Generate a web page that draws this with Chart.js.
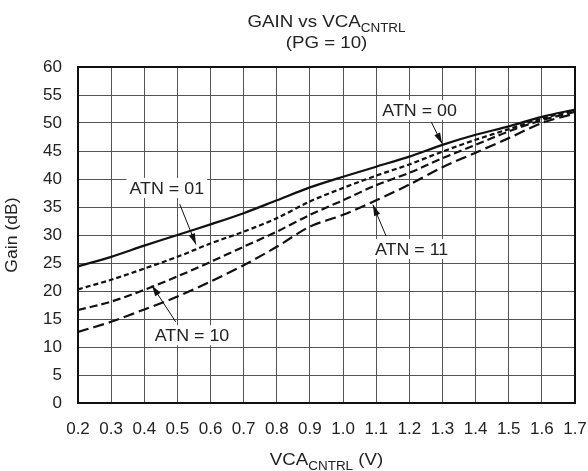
<!DOCTYPE html>
<html>
<head>
<meta charset="utf-8">
<script src="https://cdn.jsdelivr.net/npm/chart.js@4/dist/chart.umd.min.js"></script>
<style>
  html, body { margin: 0; padding: 0; background: #fff; }
  #wrap { width: 588px; height: 471px; position: relative; }
</style>
</head>
<body>
<div id="wrap"><canvas id="gainChart" width="588" height="471"></canvas></div>
<script>
// Data: VCA control voltage vs gain per ATN setting
var vcaVolts = [0.2, 0.3, 0.4, 0.5, 0.6, 0.7, 0.8, 0.9, 1.0, 1.1, 1.2, 1.3, 1.4, 1.5, 1.6, 1.7];
var gainAtn00 = [24.4, 26.1, 28.1, 30.0, 31.9, 33.9, 36.2, 38.5, 40.4, 42.2, 44.0, 46.1, 47.9, 49.4, 51.1, 52.4];
var gainAtn01 = [20.3, 22.0, 24.0, 26.1, 28.5, 30.6, 33.0, 36.0, 38.4, 40.6, 42.6, 44.9, 47.0, 48.9, 50.8, 52.3];
var gainAtn10 = [16.6, 18.1, 20.2, 22.6, 25.2, 27.9, 30.6, 33.6, 36.2, 38.9, 41.1, 43.7, 46.1, 48.5, 50.5, 52.0];
var gainAtn11 = [12.7, 14.5, 16.7, 19.0, 21.7, 24.6, 27.9, 31.5, 33.6, 36.2, 39.0, 42.1, 44.7, 47.3, 50.0, 51.7];
var yTicks = [0, 5, 10, 15, 20, 25, 30, 35, 40, 45, 50, 55, 60];

var FONT = '"Liberation Sans", Arial, sans-serif';
var STRETCH = 1.1; // reference lettering is a bit wider than Arial

function toXY(ys) {
    return vcaVolts.map(function (v, i) { return { x: v, y: ys[i] }; });
}

function series(label, ys, dash) {
    return {
        label: label,
        data: toXY(ys),
        borderColor: '#111',
        borderWidth: 2.2,
        borderDash: dash,
        pointRadius: 0,
        tension: 0.3,
        fill: false
    };
}

// draws text with a subscript part, centered at cx (baseline cy)
function subText(ctx, main, sub, tail, cx, cy, size) {
    var subSize = size * 0.72;
    ctx.font = size + 'px ' + FONT;
    var w1 = ctx.measureText(main).width;
    var w3 = ctx.measureText(tail).width;
    ctx.font = subSize + 'px ' + FONT;
    var w2 = ctx.measureText(sub).width;
    var total = (w1 + w2 + w3);
    ctx.save();
    ctx.translate(cx, cy);
    ctx.scale(STRETCH, 1);
    var x = -total / 2;
    ctx.textAlign = 'left';
    ctx.textBaseline = 'alphabetic';
    ctx.font = size + 'px ' + FONT;
    ctx.fillText(main, x, 0);
    ctx.font = subSize + 'px ' + FONT;
    ctx.fillText(sub, x + w1, size * 0.28);
    ctx.font = size + 'px ' + FONT;
    ctx.fillText(tail, x + w1 + w2, 0);
    ctx.restore();
}

function wideText(ctx, text, cx, cy, size) {
    ctx.save();
    ctx.translate(cx, cy);
    ctx.scale(STRETCH, 1);
    ctx.font = size + 'px ' + FONT;
    ctx.textAlign = 'center';
    ctx.fillText(text, 0, 0);
    ctx.restore();
}

// Titles with subscripts (Chart.js titles can't do subscripts)
var titlesPlugin = {
    id: 'titles',
    afterDraw: function (chart) {
        var ctx = chart.ctx;
        var area = chart.chartArea;
        var cx = (area.left + area.right) / 2;
        ctx.save();
        ctx.fillStyle = '#222';
        ctx.textBaseline = 'alphabetic';
        subText(ctx, 'GAIN vs VCA', 'CNTRL', '', cx, 27, 17);
        wideText(ctx, '(PG = 10)', cx, 48, 17);
        subText(ctx, 'VCA', 'CNTRL', ' (V)', cx, 465, 17);
        ctx.translate(13, (area.top + area.bottom) / 2);
        ctx.rotate(-Math.PI / 2);
        ctx.textBaseline = 'middle';
        wideText(ctx, 'Gain (dB)', 0, 0, 16);
        ctx.restore();
    }
};

// ATN labels with leader arrows, placed in data coordinates
var callouts = [
    { text: 'ATN = 00', at: [1.231, 52.3], from: [1.266, 50.2], to: [1.299, 46.3] },
    { text: 'ATN = 01', at: [0.468, 38.4], from: [0.507, 35.5], to: [0.556, 28.3] },
    { text: 'ATN = 10', at: [0.544, 12.1], from: [0.495, 14.5], to: [0.423, 21.0] },
    { text: 'ATN = 11', at: [1.207, 27.5], from: [1.130, 29.8], to: [1.090, 35.4] }
];

var calloutPlugin = {
    id: 'callouts',
    afterDatasetsDraw: function (chart) {
        var ctx = chart.ctx;
        var sx = chart.scales.x, sy = chart.scales.y;
        ctx.save();
        callouts.forEach(function (c) {
            var x = sx.getPixelForValue(c.at[0]);
            var y = sy.getPixelForValue(c.at[1]);
            ctx.font = '17px ' + FONT;
            var w = ctx.measureText(c.text).width * 1.05;
            ctx.fillStyle = '#fff';
            ctx.fillRect(x - w / 2 - 3, y - 10, w + 6, 20);
            ctx.save();
            ctx.translate(x, y + 1);
            ctx.scale(1.05, 1);
            ctx.fillStyle = '#222';
            ctx.textAlign = 'center';
            ctx.textBaseline = 'middle';
            ctx.fillText(c.text, 0, 0);
            ctx.restore();

            var x1 = sx.getPixelForValue(c.from[0]), y1 = sy.getPixelForValue(c.from[1]);
            var x2 = sx.getPixelForValue(c.to[0]), y2 = sy.getPixelForValue(c.to[1]);
            ctx.strokeStyle = '#111';
            ctx.lineWidth = 1;
            ctx.beginPath();
            ctx.moveTo(x1, y1);
            ctx.lineTo(x2, y2);
            ctx.stroke();
            var ang = Math.atan2(y2 - y1, x2 - x1);
            var len = 11, half = 3.2;
            ctx.fillStyle = '#111';
            ctx.beginPath();
            ctx.moveTo(x2, y2);
            ctx.lineTo(x2 - len * Math.cos(ang) + half * Math.sin(ang), y2 - len * Math.sin(ang) - half * Math.cos(ang));
            ctx.lineTo(x2 - len * Math.cos(ang) - half * Math.sin(ang), y2 - len * Math.sin(ang) + half * Math.cos(ang));
            ctx.closePath();
            ctx.fill();
        });
        ctx.restore();
    }
};

// frame on the top and right edges too
var framePlugin = {
    id: 'frame',
    beforeDatasetsDraw: function (chart) {
        var a = chart.chartArea, ctx = chart.ctx;
        ctx.save();
        ctx.strokeStyle = '#111';
        ctx.lineWidth = 2;
        ctx.strokeRect(a.left, a.top, a.right - a.left, a.bottom - a.top);
        ctx.restore();
    }
};

var options = {
    responsive: false,
    animation: false,
    layout: {
        padding: { top: 67, right: 13, left: 0, bottom: 0 }
    },
    plugins: {
        legend: { display: false },
        tooltip: { enabled: false }
    },
    scales: {
        x: {
            type: 'linear',
            min: 0.2,
            max: 1.7,
            afterBuildTicks: function (scale) {
                scale.ticks = vcaVolts.map(function (v) { return { value: v }; });
            },
            afterFit: function (scale) {
                scale.height = 68;
                scale.paddingLeft = 0;
                scale.paddingRight = 0;
            },
            ticks: {
                color: '#222',
                font: { family: FONT, size: 17 },
                padding: 16,
                maxRotation: 0,
                autoSkip: false,
                callback: function (v) { return Number(v).toFixed(1); }
            },
            grid: { color: '#555', lineWidth: 1, drawTicks: false },
            border: { color: '#111', width: 2 }
        },
        y: {
            min: 0,
            max: 60,
            afterBuildTicks: function (scale) {
                scale.ticks = yTicks.map(function (v) { return { value: v }; });
            },
            afterFit: function (scale) {
                scale.width = 78;
                scale.paddingTop = 0;
                scale.paddingBottom = 0;
            },
            ticks: {
                color: '#222',
                font: { family: FONT, size: 17 },
                padding: 16
            },
            grid: { color: '#555', lineWidth: 1, drawTicks: false },
            border: { color: '#111', width: 2 }
        }
    }
};

var ctx = document.getElementById('gainChart').getContext('2d');
var gainChart = new Chart(ctx, {
    type: 'line',
    data: {
        datasets: [
            series('ATN = 00', gainAtn00, []),
            series('ATN = 01', gainAtn01, [5, 3]),
            series('ATN = 10', gainAtn10, [8, 4]),
            series('ATN = 11', gainAtn11, [11, 5])
        ]
    },
    options: options,
    plugins: [framePlugin, calloutPlugin, titlesPlugin]
});
</script>
</body>
</html>
